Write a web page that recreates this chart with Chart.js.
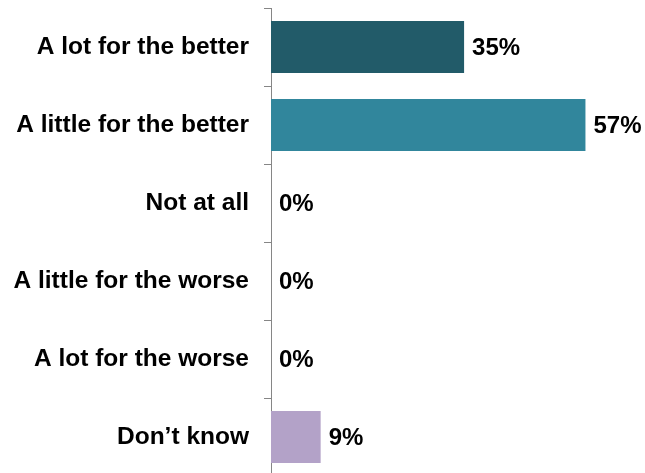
<!DOCTYPE html>
<html>
<head>
<meta charset="utf-8">
<script src="https://cdn.jsdelivr.net/npm/chart.js@4/dist/chart.umd.min.js"></script>
<style>
  html, body { margin: 0; padding: 0; background: #fff; overflow: hidden; }
  #wrap { width: 645px; height: 476px; position: relative; }
</style>
</head>
<body>
<div id="wrap"><canvas id="answersChart"></canvas></div>
<script>
// data
const categories = ['A lot for the better', 'A little for the better', 'Not at all',
                    'A little for the worse', 'A lot for the worse', 'Don\u2019t know'];
const percentValues = [35, 57, 0, 0, 0, 9];
const barColors = ['#225B69', '#31869C', '#31869C', '#31869C', '#31869C', '#B3A2C8'];

const labelFont = { family: '"Liberation Sans", Arial, sans-serif', size: 24.5, weight: 'bold' };

// draws "35%" etc. at the end of each bar
const valueLabels = {
    id: 'valueLabels',
    afterDatasetsDraw(chart) {
        const ctx = chart.ctx;
        const meta = chart.getDatasetMeta(0);
        ctx.save();
        ctx.font = 'bold 24px "Liberation Sans", Arial, sans-serif';
        ctx.fillStyle = '#000';
        ctx.textAlign = 'left';
        ctx.textBaseline = 'middle';
        meta.data.forEach(function(bar, i) {
            ctx.fillText(percentValues[i] + '%', bar.x + 8, bar.y + 1);
        });
        ctx.restore();
    }
};

document.addEventListener("DOMContentLoaded", function() {
    const ctx = document.querySelector('#answersChart').getContext('2d');
    new Chart(ctx, {
        type: 'bar',
        data: {
            labels: categories,
            datasets: [{
                data: percentValues,
                backgroundColor: barColors,
                barPercentage: 0.667,
                categoryPercentage: 1
            }]
        },
        options: {
            indexAxis: 'y',
            responsive: true,
            maintainAspectRatio: false,
            animation: false,
            layout: { padding: { top: 8, right: 43, bottom: 0, left: 0 } },
            plugins: {
                legend: { display: false },
                tooltip: { enabled: false }
            },
            scales: {
                x: {
                    display: false,
                    min: 0,
                    max: 60
                },
                y: {
                    afterFit: function(scale) {
                        scale.width = 271;
                        scale.paddingTop = 0;
                        scale.paddingBottom = 0;
                    },
                    border: { display: true, color: '#868686', width: 1 },
                    grid: {
                        drawOnChartArea: false,
                        drawTicks: true,
                        tickLength: 7,
                        color: '#868686',
                        offset: true
                    },
                    ticks: {
                        color: '#000',
                        padding: 15,
                        font: labelFont
                    }
                }
            }
        },
        plugins: [valueLabels]
    });
});
</script>
</body>
</html>
